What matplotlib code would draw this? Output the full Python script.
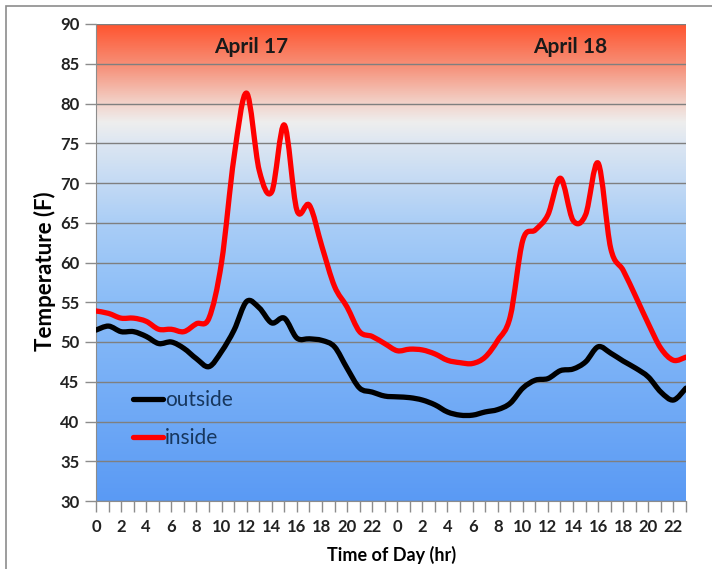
import numpy as np
import matplotlib.pyplot as plt
from matplotlib.colors import LinearSegmentedColormap
from matplotlib.path import Path
from matplotlib.patches import PathPatch, Rectangle
from matplotlib.lines import Line2D

plt.rcParams['font.family'] = ['Lato', 'DejaVu Sans']

# ------------------ Data (hourly, April 17 + April 18) ------------------
hours = np.arange(48)
hour_labels = [str(h % 24) for h in hours]

outside = [51.5, 52.0, 51.3, 51.3, 50.7, 49.8, 50.0, 49.2, 47.9, 46.9,
           48.8, 51.5, 55.1, 54.3, 52.4, 53.0, 50.5, 50.4, 50.2, 49.4,
           46.7, 44.2, 43.7, 43.2,
           43.1, 43.0, 42.7, 42.1, 41.2, 40.8, 40.8, 41.2, 41.5, 42.3,
           44.2, 45.2, 45.4, 46.4, 46.6, 47.5, 49.4, 48.6, 47.6, 46.7,
           45.6, 43.7, 42.7, 44.2]

inside = [53.9, 53.6, 53.0, 53.0, 52.6, 51.6, 51.6, 51.3, 52.3, 53.0,
          60.0, 73.3, 81.3, 71.6, 68.9, 77.3, 66.6, 67.2, 62.0, 57.0,
          54.4, 51.3, 50.7, 49.8,
          48.9, 49.1, 49.0, 48.5, 47.7, 47.4, 47.3, 48.1, 50.2, 53.2,
          62.8, 64.1, 66.0, 70.6, 65.3, 66.0, 72.5, 61.8, 59.0, 55.7,
          52.3, 49.2, 47.7, 48.1]

day_labels = ["April 17", "April 18"]
day_label_x = [12.35, 37.8]


def smooth_path(x, y):
    # Excel-style smoothed line: cubic Bezier segments (Catmull-Rom control points)
    x = np.asarray(x, float)
    y = np.asarray(y, float)
    n = len(x)
    verts = [(x[0], y[0])]
    codes = [Path.MOVETO]
    for i in range(n - 1):
        p0 = np.array([x[max(i - 1, 0)], y[max(i - 1, 0)]])
        p1 = np.array([x[i], y[i]])
        p2 = np.array([x[i + 1], y[i + 1]])
        p3 = np.array([x[min(i + 2, n - 1)], y[min(i + 2, n - 1)]])
        c1 = p1 + (p2 - p0) / 6.0
        c2 = p2 - (p3 - p1) / 6.0
        verts += [tuple(c1), tuple(c2), tuple(p2)]
        codes += [Path.CURVE4] * 3
    return Path(verts, codes)


fig = plt.figure(figsize=(7.12, 5.69), dpi=100)
ax = fig.add_axes([96 / 712, 1 - 501 / 569, 590 / 712, 477 / 569])

# outer chart border (only top/left visible in the crop)
fig.patches.append(Rectangle((6 / 712, -0.1), 1.2, (569 - 6) / 569 + 0.1,
                             transform=fig.transFigure, fill=False,
                             edgecolor='#8c8c8c', lw=1.2))

# ------------------ Gradient background ------------------
stops = [(0.0, '#5a9af4'), (0.42, '#8bbdf8'), (0.58, '#a9cdf6'),
         (0.75, '#dce6f2'), (0.795, '#eeeeee'), (0.835, '#f2d3ca'),
         (0.91, '#f6937c'), (1.0, '#ff5530')]
cmap = LinearSegmentedColormap.from_list('bg', stops)
grad = np.linspace(0, 1, 256).reshape(-1, 1)
ax.imshow(grad, cmap=cmap, aspect='auto', origin='lower',
          extent=[0, 47, 30, 90], zorder=0)

ax.set_xlim(0, 47)
ax.set_ylim(30, 90)
ax.set_yticks(np.arange(30, 91, 5))
ax.set_xticks(hours, minor=True)
ax.set_xticks(hours[::2])
ax.set_xticklabels(hour_labels[::2])
ax.grid(axis='y', color='#7f7f7f', lw=1, zorder=1)

for s in ['top', 'right']:
    ax.spines[s].set_visible(False)
for s in ['left', 'bottom']:
    ax.spines[s].set_color('#8c8c8c')
ax.tick_params(axis='both', which='both', direction='out', color='#8c8c8c',
               length=8, width=1)
ax.tick_params(axis='x', which='major', pad=5)
ax.tick_params(axis='y', pad=4)
for lab in ax.get_xticklabels() + ax.get_yticklabels():
    lab.set_fontsize(12)
    lab.set_fontweight('bold')
    lab.set_color('#222222')

# ------------------ Series ------------------
ax.add_patch(PathPatch(smooth_path(hours, outside), fill=False,
                       edgecolor='black', lw=3.8, capstyle='round',
                       joinstyle='round', zorder=3))
ax.add_patch(PathPatch(smooth_path(hours, inside), fill=False,
                       edgecolor='#ff0000', lw=3.8, capstyle='round',
                       joinstyle='round', zorder=4))

for lab, xl in zip(day_labels, day_label_x):
    ax.text(xl, 87.1, lab, ha='center', va='center', fontsize=15,
            fontweight='bold', color='#1a1a1a', zorder=5)

handles = [Line2D([], [], color='black', lw=3.8, solid_capstyle='round'),
           Line2D([], [], color='#ff0000', lw=3.8, solid_capstyle='round')]
leg = ax.legend(handles, ['outside', 'inside'], loc='upper left',
                bbox_to_anchor=(0.062, 0.232), frameon=False, fontsize=15,
                borderpad=0, borderaxespad=0,
                handlelength=1.45, handletextpad=0.12, labelspacing=0.85)
for t in leg.get_texts():
    t.set_color('#17375e')

ax.set_ylabel('Temperature (F)', fontsize=16, fontweight='bold')
ax.yaxis.set_label_coords(-0.068, 0.482)
ax.set_xlabel('Time of Day (hr)', fontsize=13, fontweight='bold')
ax.xaxis.set_label_coords(0.501, -0.094)

fig.savefig('out.png', dpi=100)
